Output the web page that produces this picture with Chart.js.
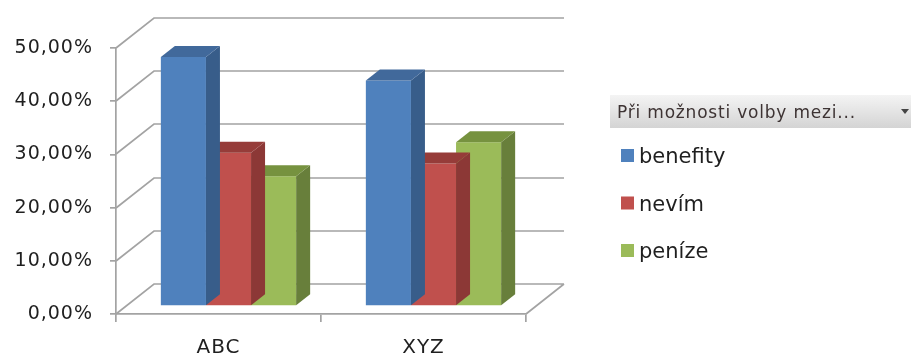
<!DOCTYPE html>
<html lang="cs">
<head>
    <meta charset="UTF-8">
    <title>Při možnosti volby mezi...</title>
    <script src="https://cdn.jsdelivr.net/npm/chart.js"></script>
    <style>
        body { margin: 0; background: #fff; }
        canvas { display: block; }
    </style>
</head>
<body>
    <canvas id="myChart" width="911" height="358"></canvas>
    <script>
        const categories = ['ABC', 'XYZ'];
        const seriesNames = ['benefity', 'nevím', 'peníze'];
        const benefity = [0.468, 0.424];
        const nevim = [0.288, 0.268];
        const penize = [0.244, 0.308];
        const yTicks = [0, 0.1, 0.2, 0.3, 0.4, 0.5];
        const legendTitle = 'Při možnosti volby mezi...';

        // front, side and top colours of the 3d columns
        const faces = [
            { front: '#4f81bd', side: '#385d8a', top: '#41699b' },
            { front: '#c0504d', side: '#8c3836', top: '#963c39' },
            { front: '#9bbb59', side: '#687f3b', top: '#76923f' }
        ];

        const WALL = { dx: 38, dy: -30 };   // back wall offset from the front axis plane
        const SHIFT = { dx: 10, dy: -8 };   // columns sit a bit behind the front plane
        const DEPTH = { dx: 14, dy: -11 };  // thickness of a column
        const GRID = '#a3a3a3';
        const TEXT = '#1f1f1f';
        const FONT = '"DejaVu Sans", sans-serif';

        Chart.defaults.font.family = FONT;

        function pct(v) {
            return (v * 100).toFixed(2).replace('.', ',') + '%';
        }

        const walls3d = {
            id: 'walls3d',
            beforeDraw(chart) {
                chart.ctx.letterSpacing = '1px';
            },
            beforeDatasetsDraw(chart) {
                const ctx = chart.ctx;
                const a = chart.chartArea;
                const y = chart.scales.y;
                ctx.save();
                ctx.strokeStyle = GRID;
                ctx.lineWidth = 1.7;
                ctx.beginPath();
                yTicks.forEach(v => {
                    const py = Math.round(y.getPixelForValue(v));
                    ctx.moveTo(a.left, py);
                    ctx.lineTo(a.left + WALL.dx, py + WALL.dy);
                    ctx.lineTo(a.right + WALL.dx, py + WALL.dy);
                });
                ctx.moveTo(a.right, a.bottom);
                ctx.lineTo(a.right + WALL.dx, a.bottom + WALL.dy);
                ctx.stroke();
                ctx.restore();

                ctx.save();
                ctx.translate(SHIFT.dx, SHIFT.dy);
            },
            afterDatasetDraw(chart, args) {
                const ctx = chart.ctx;
                const f = faces[args.index];
                args.meta.data.forEach(bar => {
                    const p = bar.getProps(['x', 'y', 'base', 'width'], true);
                    const l = p.x - p.width / 2;
                    const r = p.x + p.width / 2;
                    ctx.fillStyle = f.side;
                    ctx.beginPath();
                    ctx.moveTo(r, p.y);
                    ctx.lineTo(r + DEPTH.dx, p.y + DEPTH.dy);
                    ctx.lineTo(r + DEPTH.dx, p.base + DEPTH.dy);
                    ctx.lineTo(r, p.base);
                    ctx.closePath();
                    ctx.fill();
                    ctx.fillStyle = f.top;
                    ctx.beginPath();
                    ctx.moveTo(l, p.y);
                    ctx.lineTo(r, p.y);
                    ctx.lineTo(r + DEPTH.dx, p.y + DEPTH.dy);
                    ctx.lineTo(l + DEPTH.dx, p.y + DEPTH.dy);
                    ctx.closePath();
                    ctx.fill();
                });
            },
            afterDatasetsDraw(chart) {
                chart.ctx.restore();
            },
            afterDraw(chart) {
                // legend with the field button on top
                const ctx = chart.ctx;
                ctx.save();
                const g = ctx.createLinearGradient(0, 95, 0, 128);
                g.addColorStop(0, '#f4f4f4');
                g.addColorStop(1, '#d4d4d4');
                ctx.fillStyle = g;
                ctx.fillRect(610, 95, 301, 33);
                ctx.fillStyle = '#3d3333';
                ctx.font = '17px ' + FONT;
                ctx.letterSpacing = '0.8px';
                ctx.textBaseline = 'alphabetic';
                ctx.fillText(legendTitle, 617, 118);
                ctx.fillStyle = '#444';
                ctx.beginPath();
                ctx.moveTo(901, 109);
                ctx.lineTo(909, 109);
                ctx.lineTo(905, 114);
                ctx.closePath();
                ctx.fill();

                ctx.font = '21px ' + FONT;
                ctx.letterSpacing = '0px';
                chart.data.datasets.forEach((ds, i) => {
                    const base = 163 + i * 47.5;
                    ctx.fillStyle = ds.backgroundColor;
                    ctx.fillRect(621, base - 14, 13, 13);
                    ctx.fillStyle = TEXT;
                    ctx.fillText(ds.label, 639, base);
                });
                ctx.restore();
            }
        };

        const datasets = [benefity, nevim, penize].map((vals, i) => ({
            label: seriesNames[i],
            data: vals,
            backgroundColor: faces[i].front,
            borderWidth: 0,
            barPercentage: 1,
            categoryPercentage: 0.66,
            clip: false
        }));

        new Chart(document.getElementById('myChart'), {
            type: 'bar',
            data: { labels: categories, datasets },
            options: {
                responsive: false,
                animation: false,
                layout: { padding: { left: 0, top: 48, right: 385, bottom: 0 } },
                plugins: {
                    legend: { display: false },
                    tooltip: { enabled: false }
                },
                scales: {
                    x: {
                        afterFit: s => { s.height = 44; },
                        grid: {
                            drawOnChartArea: false,
                            drawTicks: true,
                            tickLength: 8,
                            color: GRID,
                            lineWidth: 1.7
                        },
                        border: { display: true, color: GRID, width: 1.7 },
                        ticks: {
                            color: TEXT,
                            padding: 14,
                            font: { size: 20 }
                        }
                    },
                    y: {
                        min: 0,
                        max: 0.5,
                        afterFit: s => { s.width = 116; },
                        afterBuildTicks: s => { s.ticks = yTicks.map(v => ({ value: v })); },
                        grid: {
                            drawOnChartArea: false,
                            drawTicks: true,
                            tickLength: 6,
                            color: GRID,
                            lineWidth: 1.7
                        },
                        border: { display: true, color: GRID, width: 1.7 },
                        ticks: {
                            color: TEXT,
                            padding: 17,
                            font: { size: 19 },
                            callback: v => pct(v)
                        }
                    }
                }
            },
            plugins: [walls3d]
        });
    </script>
</body>
</html>
